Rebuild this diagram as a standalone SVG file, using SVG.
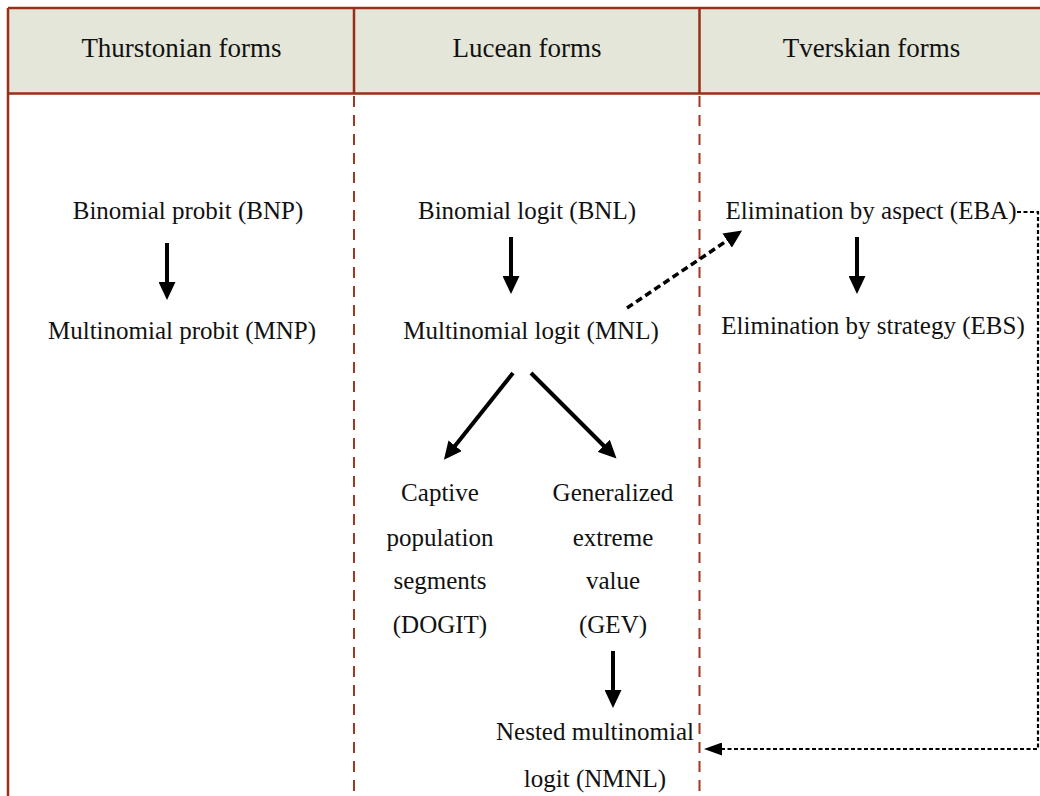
<svg xmlns="http://www.w3.org/2000/svg" width="1040" height="796" viewBox="0 0 1040 796">
<style>
text{font-family:"Liberation Serif","Times New Roman",serif;font-size:25px;fill:#111;text-anchor:middle}
text.h{font-size:27px}
.frame{stroke:#9A2E18;stroke-width:2.5;fill:none}
.div{stroke:#A0381F;stroke-width:2;stroke-dasharray:11 8;fill:none}
.solid{stroke:#000;stroke-width:4;fill:none}
.dash{stroke:#000;stroke-width:3.5;stroke-dasharray:7 4;fill:none}
.dot{stroke:#000;stroke-width:2.2;stroke-dasharray:4 2.5;fill:none}
</style>
<defs>
<marker id="ah" viewBox="0 0 18 17" refX="1" refY="8.5" markerWidth="18" markerHeight="17" markerUnits="userSpaceOnUse" orient="auto"><path d="M0,0 L18,8.5 L0,17 z" fill="#000"/></marker>
<marker id="ahs" viewBox="0 0 18 13" refX="1" refY="6.5" markerWidth="18" markerHeight="13" markerUnits="userSpaceOnUse" orient="auto"><path d="M0,0 L18,6.5 L0,13 z" fill="#000"/></marker>
</defs>
<g id="table">
<rect x="8" y="8" width="1040" height="85.5" fill="#E3E6D9"/>
<path class="frame" d="M8,8 H1040 M8,93.5 H1040 M8,8 V796 M354,8 V93.5 M699.5,8 V93.5"/>
<path class="div" d="M354,96 V796 M699.5,96 V796"/>
</g>
<g id="h1"><text class="h" x="181.5" y="57">Thurstonian forms</text></g>
<g id="h2"><text class="h" x="527" y="57">Lucean forms</text></g>
<g id="h3"><text class="h" x="871.5" y="57">Tverskian forms</text></g>
<g id="bnp"><text x="188" y="219">Binomial probit (BNP)</text></g>
<g id="mnp"><text x="182" y="339">Multinomial probit (MNP)</text></g>
<g id="bnl"><text x="527" y="219">Binomial logit (BNL)</text></g>
<g id="mnl"><text x="531" y="339">Multinomial logit (MNL)</text></g>
<g id="eba"><text x="871" y="219">Elimination by aspect (EBA)</text></g>
<g id="ebs"><text x="873" y="334">Elimination by strategy (EBS)</text></g>
<g id="dogit"><text x="440" y="501">Captive</text><text x="440" y="546">population</text><text x="440" y="589">segments</text><text x="440" y="633">(DOGIT)</text></g>
<g id="gev"><text x="613" y="501">Generalized</text><text x="613" y="546">extreme</text><text x="613" y="589">value</text><text x="613" y="633">(GEV)</text></g>
<g id="nmnl"><text x="595" y="740">Nested multinomial</text><text x="595" y="787">logit (NMNL)</text></g>
<g id="connectors">
<line class="solid" x1="167" y1="243" x2="167" y2="283" marker-end="url(#ah)"/>
<line class="solid" x1="511" y1="237" x2="511" y2="277" marker-end="url(#ah)"/>
<line class="solid" x1="857" y1="237" x2="857" y2="277" marker-end="url(#ah)"/>
<line class="solid" x1="613" y1="651" x2="613" y2="691" marker-end="url(#ah)"/>
<line class="solid" x1="513" y1="373" x2="454.5" y2="446.5" marker-end="url(#ah)"/>
<line class="solid" x1="531" y1="373" x2="604.5" y2="446.5" marker-end="url(#ah)"/>
<line class="dash" x1="627" y1="308" x2="728" y2="240" marker-end="url(#ah)"/>
<path class="dot" d="M1017,212 H1038 V749 H721" marker-end="url(#ahs)"/>
</g>
</svg>
